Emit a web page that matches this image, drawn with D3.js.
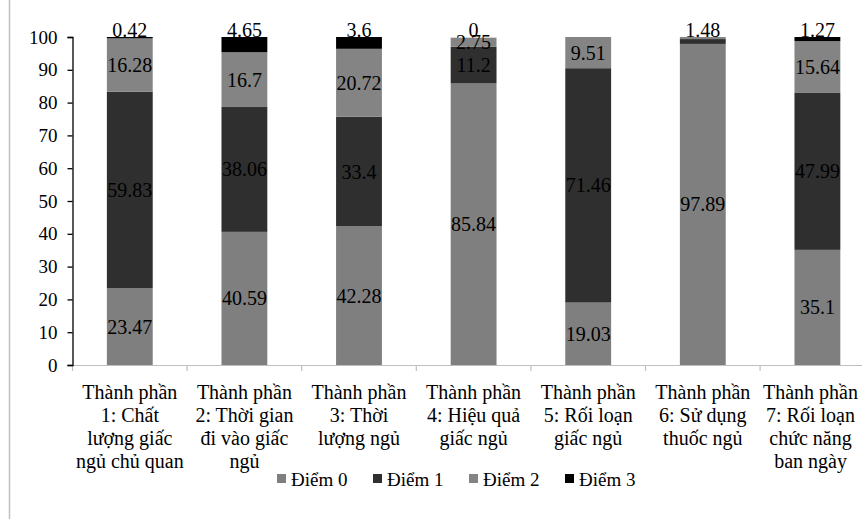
<!DOCTYPE html>
<html><head><meta charset="utf-8">
<script src="https://cdn.jsdelivr.net/npm/d3@7"></script>
<style>body{margin:0;background:#fff}svg{display:block}</style>
</head><body><svg id="c" width="862" height="519"></svg>
<script>
const categories = [
  ["Thành phần","1: Chất","lượng giấc","ngủ chủ quan"],
  ["Thành phần","2: Thời gian","đi vào giấc","ngủ"],
  ["Thành phần","3: Thời","lượng ngủ"],
  ["Thành phần","4: Hiệu quả","giấc ngủ"],
  ["Thành phần","5: Rối loạn","giấc ngủ"],
  ["Thành phần","6: Sử dụng","thuốc ngủ"],
  ["Thành phần","7: Rối loạn","chức năng","ban ngày"]
];
const seriesNames = ["Điểm 0","Điểm 1","Điểm 2","Điểm 3"];
const diem0 = [23.47, 40.59, 42.28, 85.84, 19.03, 97.89, 35.1];
const diem1 = [59.83, 38.06, 33.4, 11.2, 71.46, 1.48, 47.99];
const diem2 = [16.28, 16.7, 20.72, 2.75, 9.51, 0.63, 15.64];
const diem3 = [0.42, 4.65, 3.6, 0, 0, 0, 1.27];
// which labels are shown (picture omits some)
const showLabel = [
  [1,1,1,1],[1,1,1,1],[1,1,1,1],[1,1,1,1],[1,1,1,0],[1,1,0,0],[1,1,1,1]
];
const yTicks = [0,10,20,30,40,50,60,70,80,90,100];
const colors = ["#7f7f7f","#2f2f2f","#848484","#000000"];

(function(){
const FF = "Liberation Serif";
const W = 862;
const svg = d3.select("#c");
const left = 72.5, topY = 37, bottom = 365, catW = 114.6;
const x = d3.scaleBand().domain(d3.range(7)).range([left, left + catW*7]).paddingInner(0.6).paddingOuter(0.3);
const y = d3.scaleLinear().domain([0,100]).range([bottom, topY]);

svg.append("line").attr("x1",9.5).attr("x2",9.5).attr("y1",0).attr("y2",519).attr("stroke","#bfbfbf").attr("stroke-width",1.5);

const vals = [diem0, diem1, diem2, diem3];
const rows = categories.map((c,i)=>({i, d0:diem0[i], d1:diem1[i], d2:diem2[i], d3:diem3[i]}));
const stack = d3.stack().keys(["d0","d1","d2","d3"])(rows);

stack.forEach((layer,k)=>{
  svg.append("g").selectAll("rect").data(layer).join("rect")
    .attr("x", d=>x(d.data.i)).attr("width", x.bandwidth())
    .attr("y", d=>y(d[1])).attr("height", d=>Math.max(0, y(d[0])-y(d[1])))
    .attr("fill", colors[k]);
});

const xAxisG = svg.append("g");
xAxisG.append("line").attr("x1",left).attr("x2",left+catW*7).attr("y1",bottom+0.5).attr("y2",bottom+0.5).attr("stroke","#bfbfbf").attr("stroke-width",1.2);
xAxisG.selectAll("line.t").data(d3.range(8)).join("line").attr("class","t")
  .attr("x1",d=>left+d*catW).attr("x2",d=>left+d*catW).attr("y1",bottom).attr("y2",bottom+6)
  .attr("stroke","#bfbfbf").attr("stroke-width",1.2);

const yAxis = d3.axisLeft(y).tickValues(yTicks).tickSize(5).tickPadding(10);
const yg = svg.append("g").attr("transform",`translate(${left},0)`).call(yAxis);
yg.attr("font-family", FF);
yg.select(".domain").attr("stroke","#000").attr("stroke-width",1.3);
yg.selectAll(".tick line").attr("stroke","#000").attr("stroke-width",1.3);
yg.selectAll(".tick text").attr("font-size","19px").attr("font-family",FF).attr("fill","#000");

stack.forEach((layer,k)=>{
  layer.forEach(d=>{
    const i = d.data.i;
    if(!showLabel[i][k]) return;
    const v = vals[k][i];
    const h = y(d[0]) - y(d[1]);
    let cy;
    if (k === 3 || h < 6) cy = y(100) - 7; else cy = (y(d[0]) + y(d[1]))/2;
    svg.append("text").attr("x", x(i)+x.bandwidth()/2).attr("y", cy)
      .attr("dy","0.35em").attr("text-anchor","middle").attr("font-size","20px").attr("font-family",FF).attr("fill","#000")
      .text(String(v));
  });
});

categories.forEach((lines,i)=>{
  const t = svg.append("text").attr("text-anchor","middle").attr("font-size","20px").attr("font-family",FF).attr("fill","#000");
  const cx = x(i)+x.bandwidth()/2;
  lines.forEach((ln,j)=>{
    t.append("tspan").attr("x", cx).attr("y", 399 + j*23).text(ln);
  });
  const bb = t.node().getBBox();
  const over = bb.x + bb.width - (W - 4);
  if (over > 0) t.selectAll("tspan").attr("x", cx - over);
});

const lg = svg.append("g");
const lx0 = 277, lstep = 96;
seriesNames.forEach((n,k)=>{
  lg.append("rect").attr("x", lx0 + k*lstep).attr("y", 474).attr("width",9).attr("height",9).attr("fill",colors[k]);
  lg.append("text").attr("x", lx0 + k*lstep + 14).attr("y", 486).attr("font-size","19px").attr("font-family",FF).attr("fill","#000").text(n);
});
})();
</script></body></html>
